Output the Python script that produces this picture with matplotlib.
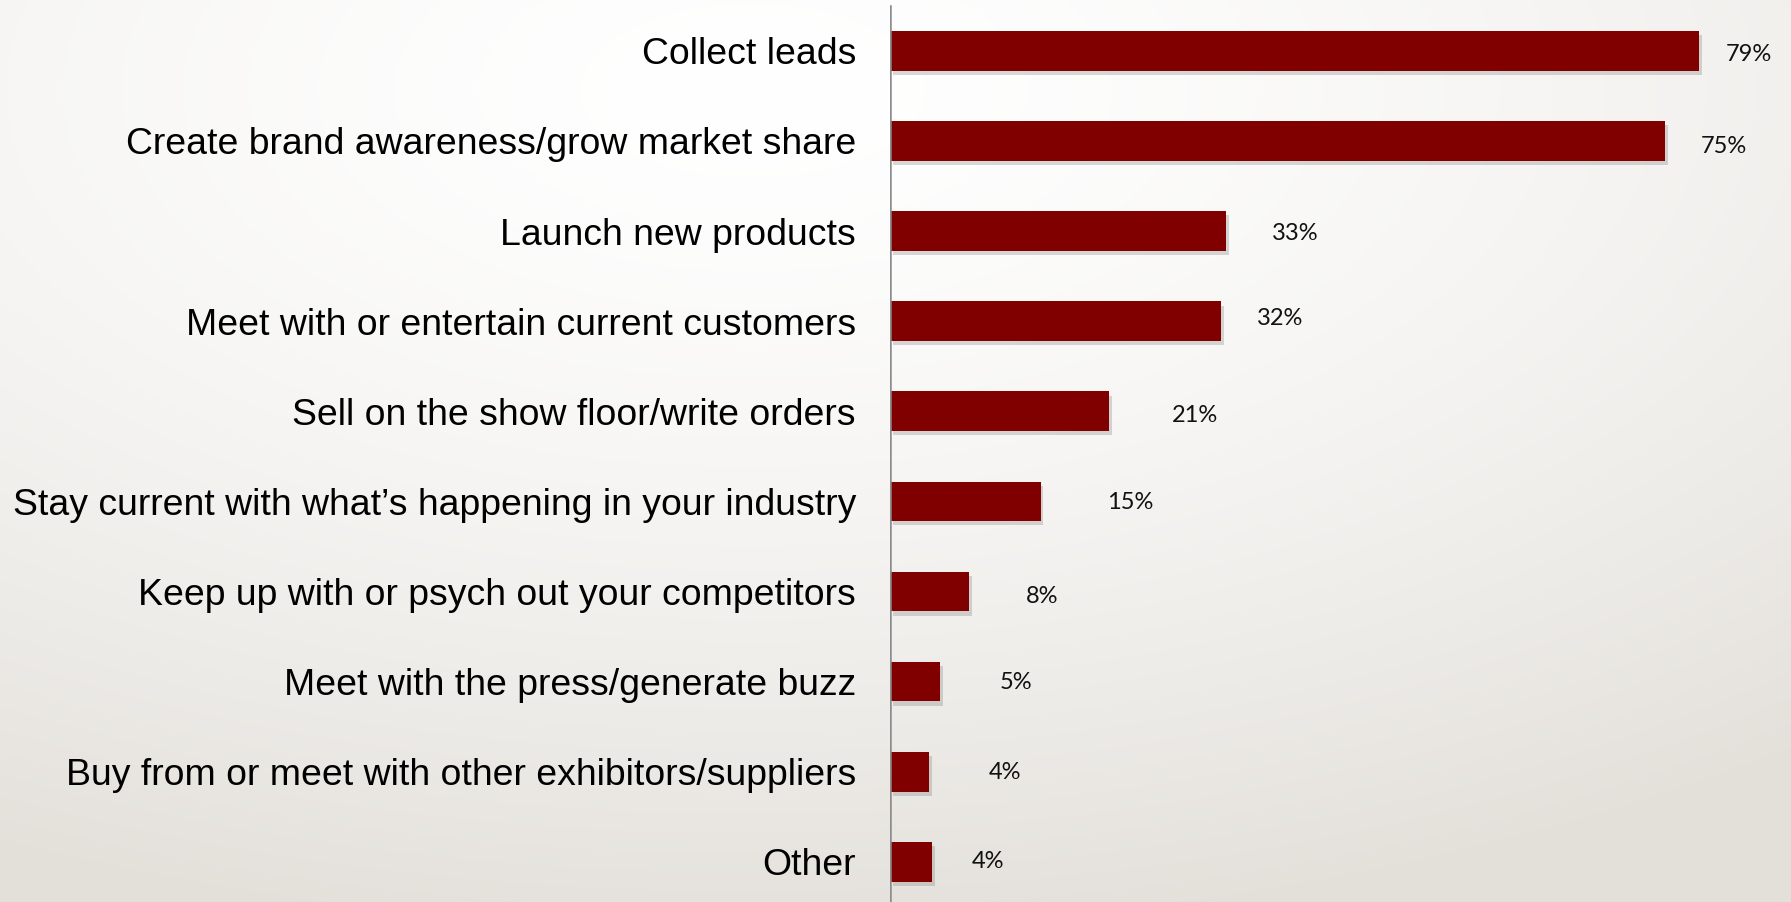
import matplotlib.pyplot as plt
import matplotlib.patheffects as pe
import numpy as np

# data
categories = ['Collect leads',
              'Create brand awareness/grow market share',
              'Launch new products',
              'Meet with or entertain current customers',
              'Sell on the show floor/write orders',
              'Stay current with what\u2019s happening in your industry',
              'Keep up with or psych out your competitors',
              'Meet with the press/generate buzz',
              'Buy from or meet with other exhibitors/suppliers',
              'Other']
# bar lengths as drawn (labels on the slide are rounded)
values = [79, 75.7, 32.8, 32.3, 21.4, 14.7, 7.7, 4.9, 3.8, 4.1]
value_labels = ['79%', '75%', '33%', '32%', '21%', '15%', '8%', '5%', '4%', '4%']

# hand-placed label nudges (x in % units, y in bar units), like the original slide
lab_dx = [2.6, 3.5, 4.5, 3.5, 6.1, 6.5, 5.6, 5.8, 5.8, 3.9]
lab_dy = [0.04, 0.06, 0.03, -0.03, 0.05, 0.01, 0.05, 0.01, 0.01, 0.0]

W, H = 1791, 902
fig = plt.figure(figsize=(W / 100, H / 100), dpi=100)

# radial gradient background
bg = fig.add_axes([0, 0, 1, 1])
yy, xx = np.mgrid[0:H, 0:W]
cx, cy = 0.42 * W, 0.1 * H
r = np.sqrt(((xx - cx) / W) ** 2 + ((yy - cy) / H) ** 2)
t = np.clip(r / 0.95, 0, 1) ** 1.5
c0 = np.array([1.0, 1.0, 1.0])
c1 = np.array([0xe3, 0xe0, 0xda]) / 255
img = c0[None, None, :] * (1 - t[..., None]) + c1[None, None, :] * t[..., None]
bg.imshow(img, aspect='auto', extent=[0, 1, 0, 1])
bg.axis('off')

x0 = 890
px_per_pct = 10.24
ax = fig.add_axes([x0 / W, 0, 1 - x0 / W, 1])
ax.set_facecolor('none')

y = np.arange(len(categories))
bars = ax.barh(y, values, height=0.44, color='#800000', zorder=3)
for b in bars:
    b.set_path_effects([pe.SimplePatchShadow(offset=(2, -3), shadow_rgbFace='#808080', alpha=0.3),
                        pe.Normal()])

for i, v in enumerate(values):
    ax.text(v + lab_dx[i], y[i] + lab_dy[i], value_labels[i], va='center', ha='left',
            fontsize=17, family='Lato', color='#111111')

ax.set_xlim(0, (W - x0) / px_per_pct)
spacing = 90.12
top_c = 50.8
ax.set_ylim(9 + (H - (top_c + 9 * spacing)) / spacing, -top_c / spacing)

ax.set_yticks(y)
ax.set_yticklabels(categories, family='Liberation Sans', fontsize=26.9, color='#000000')
ax.tick_params(axis='y', length=0, pad=24.5)
ax.set_xticks([])
for s in ['top', 'right', 'bottom', 'left']:
    ax.spines[s].set_visible(False)
ax.axvline(0, ymin=0, ymax=1 - 6 / H, color='#8c8c8c', lw=1.8, zorder=4)

fig.savefig('out.png', dpi=100)
